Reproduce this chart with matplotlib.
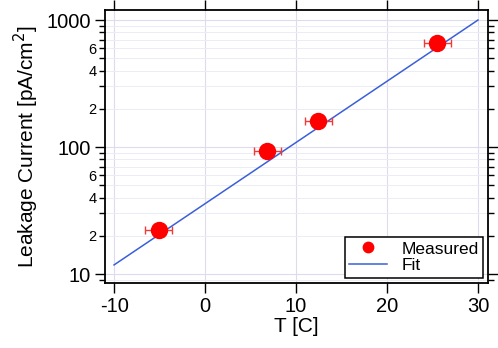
import numpy as np
import matplotlib.pyplot as plt
from matplotlib.ticker import LogLocator, FuncFormatter, FixedLocator

plt.rcParams['font.family'] = ['Liberation Sans', 'DejaVu Sans']
plt.rcParams['axes.unicode_minus'] = False

# data
temp_meas = [-5.1, 6.85, 12.45, 25.55]
leak_meas = [22.3, 93, 160, 655]
temp_err = [1.5, 1.5, 1.5, 1.5]

fit_temp = [-10, 30]
fit_leak = [11.8, 1000]

x_ticks = [-10, 0, 10, 20, 30]

fig = plt.figure(figsize=(4.98, 3.48), dpi=100)
ax = fig.add_axes([0.2108, 0.1868, 0.7691, 0.7845])

ax.set_yscale('log')
ax.set_xlim(-11.0, 31.1)
ax.set_ylim(8.5, 1200)

# grid
ax.grid(True, which='major', color='#dcdcee', lw=0.8)
ax.grid(True, which='minor', axis='y', color='#ececf6', lw=0.7)
ax.set_axisbelow(True)

fit_line, = ax.plot(fit_temp, fit_leak, color='#3a5fd9', lw=1.1, label='Fit', zorder=2)
ax.errorbar(temp_meas, leak_meas, xerr=temp_err, fmt='none', ecolor='#f03a3a',
            elinewidth=1.0, capsize=3, capthick=1.0, zorder=3)
meas_pts, = ax.plot(temp_meas, leak_meas, 'o', color='#ff0000', ms=11.5, mec='#ff0000',
                    label='Measured', zorder=4, linestyle='none')

# ticks
ax.xaxis.set_major_locator(FixedLocator(x_ticks))
ax.yaxis.set_major_locator(LogLocator(base=10, numticks=10))
ax.yaxis.set_minor_locator(LogLocator(base=10, subs=np.arange(2, 10), numticks=20))
ax.yaxis.set_major_formatter(FuncFormatter(lambda v, p: f'{v:g}'))


def minor_fmt(v, p):
    d = int(round(v / 10 ** np.floor(np.log10(v) + 1e-9)))
    return str(d) if d in (2, 4, 6) else ''


ax.yaxis.set_minor_formatter(FuncFormatter(minor_fmt))

ax.tick_params(which='both', direction='out', top=True, right=True,
               width=1.0, color='black')
ax.tick_params(which='major', length=7, labelsize=14.5, pad=3)
ax.tick_params(which='minor', length=4, labelsize=10.5, pad=2)

for s in ax.spines.values():
    s.set_linewidth(1.3)

ax.set_xlabel('T [C]', fontsize=15, labelpad=1)
ax.set_ylabel('Leakage Current [pA/cm$^2$]', fontsize=15, labelpad=4)

leg = ax.legend([meas_pts, fit_line], ['Measured', 'Fit'], loc='lower right',
                fontsize=12.5, frameon=True, fancybox=False,
                edgecolor='black', framealpha=1, borderaxespad=0.3,
                handlelength=2.2, handletextpad=0.8, borderpad=0.25,
                labelspacing=0.1, markerscale=0.65)
leg.get_frame().set_linewidth(1.1)

fig.savefig('out.png', dpi=100)
